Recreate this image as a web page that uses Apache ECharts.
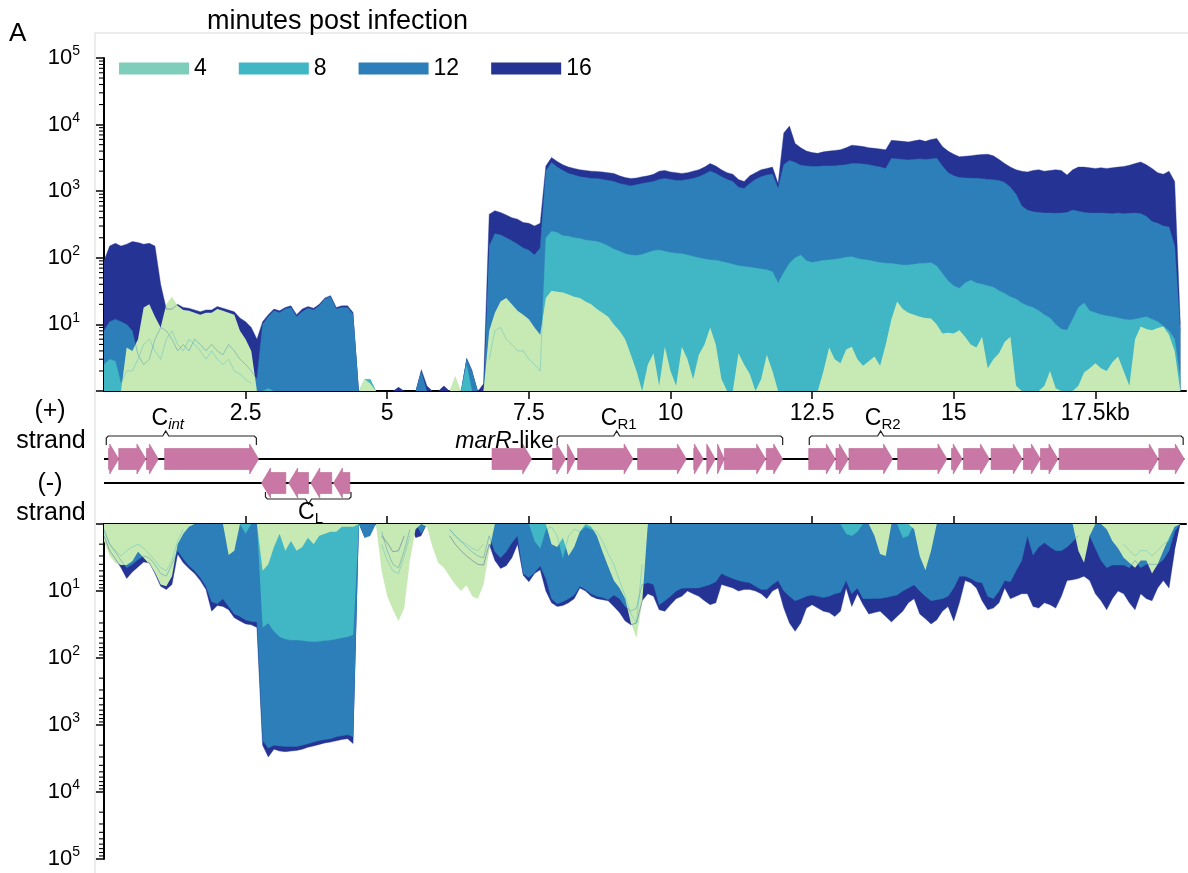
<!DOCTYPE html>
<html>
<head>
<meta charset="utf-8">
<script src="https://cdn.jsdelivr.net/npm/echarts@6/dist/echarts.min.js"></script>
<style>
  html, body { margin: 0; padding: 0; background: #fff; }
  #chart { width: 1188px; height: 873px; }
</style>
</head>
<body>
<div id="chart"></div>
<script>
// Genome position (kb), sampled every 0.1 kb from 0 to 19 kb
const kb = Array.from({ length: 191 }, (_, i) => +(i / 10).toFixed(1));

// Read coverage on the (+) strand, one row per kb
const plus16 = [
  90,150,165,150,160,175,170,160,165,150,
  40,17,17,20,18,17.5,16.5,15.5,16.5,16.5,
  18.5,17.5,16.5,15.5,12.5,11,9,6,11,14,
  17,16,18,19,14,17,18.5,17.5,20,25,
  27,18,19,19,15,1,1,1,1,1,
  1,1,1.15,1,1,1,2.1,1.2,1,1,
  1.2,1,1,1,3.1,2,1,1.3,450,510,
  480,440,400,380,340,330,300,330,2400,3200,
  2800,2500,2300,2200,2100,2050,2000,1980,1950,1900,
  1850,1700,1600,1550,1580,1650,1700,1800,2000,2050,
  1950,1900,1850,1900,2000,2100,2300,2600,2400,2100,
  1900,1800,1500,1400,1700,1900,2100,2200,2300,1300,
  7500,9500,5200,4500,4000,3800,3700,3900,4000,4100,
  4200,4500,4900,4800,4700,4500,4400,4300,4200,5800,
  5700,5600,5500,5700,5900,5600,6000,6200,4700,4000,
  3600,3300,3350,3400,3500,3550,3600,3400,3000,2600,
  2300,2100,2000,1950,2050,2100,2000,2050,2100,2050,
  1750,2100,2300,2300,2250,2200,2250,2200,2250,2300,
  2350,2450,2600,2750,2500,2200,1900,1800,2000,1400,
  10
];
const plus12 = [
  8,11,12,11,10,8,3.5,2.5,3,6,
  9,8,6,4,5,4,6,5,4,5,
  4,3.5,5,4,3,2.5,2,1.5,10,13,
  16,15,17,18,13,15.5,17.5,16.5,19,24,
  26,17,18,18,14,1,1,1.5,1,1,
  1,1,1,1,1,1,2,1,1,1,
  1,1,1,1,3.1,1.95,1,1,150,230,
  220,200,180,160,140,130,110,140,2000,2700,
  2300,2050,1850,1750,1650,1600,1550,1550,1500,1450,
  1400,1300,1250,1200,1250,1300,1350,1400,1500,1550,
  1500,1450,1450,1500,1550,1650,1800,2000,1850,1650,
  1500,1400,1150,1100,1300,1500,1650,1750,1800,1100,
  2500,2900,2700,2450,2400,2350,2350,2400,2400,2400,
  2450,2500,2600,2600,2550,2500,2400,2300,2200,3100,
  3050,3000,2950,3000,3050,3000,3050,3120,2400,1900,
  1700,1600,1580,1560,1560,1540,1500,1480,1450,1350,
  1150,900,600,520,490,480,470,470,465,470,
  480,520,500,480,470,470,470,465,460,470,
  460,465,470,460,420,350,330,300,290,150,
  8
];
const plus8 = [
  2.5,3,2.8,1.3,2,2,3,5,6,4,
  3,6,8,5,4,6,5,4,3,4,
  3,2.5,3,2,1.8,1.5,1.3,1,1,1.1,
  1,1,1,1,1,1,1,1,1,1,
  1,1,1,1,1,1,1.5,1.5,1,1,
  1,1,1,1,1,1,1,1,1,1,
  1,1,1.4,1,2.5,1,1,1,3,8,
  9,6,5,4,4,3,2.5,2,200,250,
  240,215,210,200,195,185,180,175,165,150,
  135,125,115,110,108,112,120,128,131,125,
  120,117,115,110,105,100,96,93,92,88,
  84,80,76,74,72,70,68,66,62,42,
  60,83,100,110,90,85,88,92,93,95,
  98,102,104,98,94,92,88,85,83,82,
  80,78,78,80,82,83,84,75,58,45,
  38,35,42,46,42,40,38,36,32,29,
  26,24,21,19,18,16,14,12.5,10,8.5,
  8.2,12,18,21,16,15,14,13.5,13,12.5,
  12,11.6,12,12.5,13,12,11,9.5,8,6,
  1.5
];
const plus4 = [
  1,1,1,1,4.5,4,6,18,20,13,
  9,20,26,19,16.5,16,15,14,15,15,
  17,16,15,14,8,6,4,1,1,1,
  1,1,1,1,1,1,1,1,1,1,
  1,1,1,1,1,1,1.5,1.3,1,1,
  1,1,1,1,1,1,1,1,1,1,
  1,1,1.7,1,1,1,1,1,8,15,
  22,25,20,16,14,12,9,7,25,32,
  31,30,28,26,25,22,20,17,15,13,
  10,8,6,3.5,2,1,2.5,3.7,1.2,4.6,
  2,1.2,4.6,3,1.5,3.5,5,9,5,1.5,
  1,1,3.7,2.5,1.8,1,1.5,3.5,2,1,
  1,1,1,1,1,1,1,2,4.5,3,
  2.6,4.2,4.6,3,2.4,2.8,3.3,2.4,5,12,
  22,17,15,14,13,12.5,12.3,10,7.3,7.5,
  7.3,8.2,6.5,5,4.5,6.5,2.2,3,3.7,5.5,
  6.5,1.2,1,1,1,1,1.2,2,1.1,1,
  1,1,1.2,1.9,2.2,2.6,2.2,2,2.7,3.3,
  2,1.2,6,9.3,8.5,8.2,8.8,9.3,7,4,
  1
];

// Read coverage on the (-) strand
const minus16 = [
  1.5,2.5,3.3,4.5,6.5,5.2,4.4,3.7,3.8,5.5,
  8.5,9.5,8,2.8,3.8,4.6,5.5,7,9.5,20,
  16.5,17,19,25,28,31,32,35,2000,3000,
  2300,2450,2500,2450,2400,2300,2150,2050,1950,1850,
  1800,1720,1650,1600,1900,1,1.6,1,1,1.5,
  1.9,2.6,2.5,1.5,1,1.6,1.5,1,1,1,
  1,1.5,2,2.5,3,3.5,4,4.1,2,3.5,
  4.6,4.2,3.2,2,5.8,7.3,5.5,4.8,10,15,
  17,16.5,15,13,9,10,12,13,13.5,14,
  17,21,28,32,30,14,11,12,19,20,
  16,13,12,10,11,12,14,16,15,8,
  8.5,9,10,9.5,9.5,10,11,13,10,9,
  18,30,40,30,18,16,18,20,21,24,
  20,9,17,11,16,22,21,20,24,29,
  24,20,15,13,22,26,31,27,20,17,
  28,15,7,7.5,9,14,19,18,15,9,
  13,12,11,11,17,18,15,16,18,12,
  7,6.8,6.5,6,7,11,14,19,13,10,
  11,15,19,11,13,14,9,7,9,2.5,
  1
];
const minus12 = [
  1.2,2,2.6,3.5,4.5,4,3.4,3,3.2,4,
  5.5,6,4,2.5,3.3,4.2,5,6.3,8.5,14.5,
  15.5,13,17,22,24,27,28.5,29,1700,2200,
  2000,2050,2100,2100,2100,2000,1900,1800,1700,1650,
  1600,1500,1450,1400,1500,1,1.6,1.5,1,1.3,
  2.5,4,4.5,2.5,1.2,1,1.4,1,1,1,
  1,1.2,1.5,1.8,2.2,2.6,3,3.2,1.5,2.6,
  3.2,2.6,1.9,1.5,5.5,6.3,5.3,4.2,6.5,13,
  15.5,14.5,13,11.5,8.5,9.5,11,12,12.5,13.5,
  11.5,13,17,20,18,8,7.5,8,16,14,
  12,10,9.1,9,9,9,8.5,8,7.3,5.5,
  6,6.5,7,7.3,7.5,8.5,9.5,9.5,8,7,
  10,12,14,13,12,11.5,12,12.5,12,11,
  10.5,7,11,9,13,13,12.9,12.9,12.5,12,
  11.5,10,9,8.1,10,12,14,13.5,13,12,
  9,6,6,6.5,7.3,7.5,12,13,10,7,
  7.3,5,3.5,1.5,2.9,2.2,1.9,2.2,2.5,2.5,
  2.2,1.84,1.5,1,1.5,2.3,3.5,4.5,4.1,4.1,
  4.1,4.5,3.5,4.5,4,4,4,3.4,2.5,1.3,
  1
];
const minus8 = [
  1.3,2,2.5,3,2.5,2.2,2,2.3,2.8,3.5,
  4.5,5,3.5,1.8,1.2,1,1,1,1,1,
  1,1,1,1,1,1.4,1,1,35,30,
  40,48,52,54,54,55,56,57,56,55,
  54,52,50,48,45,1,1,1,1,2,
  3.5,5,5.5,3,1.5,1,1,1,1,1,
  1,1.2,1.5,1.8,2,2.3,2.5,2,1,1,
  1,1,1,1,1,1,1.8,2.3,1.2,1.1,
  1.5,3.2,1.5,1.2,1.3,1.1,1.2,1.3,1.8,2.8,
  4,7,12,22,30,4,1,1,1,1,
  1,1,1,1,1,1,1,1,1,1,
  1,1,1,1,1,1,1,1,1,1,
  1,1,1,1,1,1,1,1,1,1,
  1,1.4,1.5,1.3,1,1,1,1,1,1,
  1,1.6,1.5,1,1,1,1,1,1,1,
  1,1,1,1,1,1,1,1,1,1,
  1,1,1,1,1,1,1,1,1,1,
  1,1,1,1,1,1,1,1,1,1,
  2,2.5,3,2.5,2.5,3,2.5,2,1.8,1,
  1
];
const minus4 = [
  1.8,3,3.8,4.1,4.1,3.6,2.6,3.2,4,5.3,
  8,8.5,6,2,1.4,1.1,1,1,1,1,
  1,1,2.9,2.5,1,1,1,1,5,4,
  2.2,1.4,2.5,1.8,2.5,2.2,1.6,2,1.5,1.4,
  1.3,1.3,1.1,1.1,1.1,1,1,1,1,5,
  12,19,28,18,3.5,1.2,1,1.1,2.2,3.8,
  4.5,6,8,10,8.2,12,13,8,2.5,1,
  1,1,1,1,1,1,1,1,1,2,
  2.2,1.6,3,2.2,1.3,1,1.1,1.5,2.6,4.3,
  7,9,13,30,50,15,1,1,1,1,
  1,1,1,1,1,1,1,1,1,1,
  1,1,1,1,1,1,1,1,1,1,
  1,1,1,1,1,1,1,1,1,1,
  1,1,1,1,1,1,1.5,2.8,3,1,
  1,1,1,1.2,3,4.9,2.5,1,1,1,
  1,1,1,1,1,1,1,1,1,1,
  1,1,1,1,1,1,1,1,1,1,
  1,1,2.5,3.8,1.5,1,1,1.2,1.8,2.3,
  3.2,3.8,4.5,3.5,3.5,5.5,4,2.5,1.6,1.1,
  1
];

// Genes: [start kb, end kb]
const genesPlus = [
  [0.08,0.26],[0.26,0.74],[0.75,0.96],[1.07,2.73],[6.85,7.55],
  [7.92,8.15],[8.18,8.32],[8.36,9.34],[9.42,10.28],[10.41,10.58],
  [10.64,10.79],[10.83,10.95],[10.95,11.68],[11.69,11.98],
  [12.44,12.91],[12.92,13.14],[13.15,13.92],[14.01,14.88],[14.96,15.15],
  [15.17,15.63],[15.66,16.21],[16.23,16.53],[16.53,16.84],[16.86,18.61],[18.62,19.07]
];
const genesMinus = [[2.78,3.21],[3.26,3.61],[3.65,4.02],[4.05,4.34]];
const genomeEnd = 19.07;

// Gene clusters: start, end, label position (kb), strand
const clusters = [
  { sub: 'int', italic: true, start: 0.04, end: 2.69, tip: 1.09, strand: 1 },
  { sub: 'L', italic: false, start: 2.85, end: 4.36, tip: 3.61, strand: -1 },
  { sub: 'R1', italic: false, start: 8.0, end: 11.98, tip: 9.05, strand: 1 },
  { sub: 'R2', italic: false, start: 12.45, end: 19.05, tip: 13.71, strand: 1 }
];
const geneNotes = [{ italicPart: 'marR', rest: '-like', at: 7.07, strand: 1 }];

const timePoints = ['4', '8', '12', '16'];
const tickKb = [2.5, 5, 7.5, 10, 12.5, 15, 17.5];

const FONT = "'Liberation Sans', Arial, Helvetica, sans-serif";
const COLORS = { '4': '#7fcdbb', '8': '#41b6c4', '12': '#2c7fb8', '16': '#253494' };
const AREA_COLORS = { '4': '#c7e9b4', '8': '#41b6c4', '12': '#2c7fb8', '16': '#253494' };
const GENE_FILL = '#c977a5';

const pairs = vals => kb.map((x, i) => [x, vals[i]]);
const edges = vals => kb.map((x, i) => [x, vals[i] > 1 ? vals[i] : null]);

const panels = [
  { idx: 0, data: { '16': plus16, '12': plus12, '8': plus8, '4': plus4 } },
  { idx: 1, data: { '16': minus16, '12': minus12, '8': minus8, '4': minus4 } }
];

const series = [];
const minorVals = [];
for (let k = 0; k < 5; k++) for (let m = 2; m <= 9; m++) minorVals.push(m * Math.pow(10, k));

panels.forEach(p => {
  // filled coverage, largest time point at the back
  ['16', '12', '8', '4'].forEach(name => {
    series.push({
      type: 'line', name, xAxisIndex: p.idx, yAxisIndex: p.idx,
      data: pairs(p.data[name]), symbol: 'none', showSymbol: false,
      lineStyle: { width: 0, opacity: 0 },
      itemStyle: { color: COLORS[name] },
      areaStyle: { color: AREA_COLORS[name], opacity: 1, origin: 'start' },
      silent: true, z: 2
    });
  });
  // faint outlines of the later time points drawn over the 4 min fill
  ['16', '12', '8'].forEach(name => {
    series.push({
      type: 'line', name: 'outline ' + name, xAxisIndex: p.idx, yAxisIndex: p.idx,
      data: edges(p.data[name]), symbol: 'none', showSymbol: false, connectNulls: false,
      lineStyle: { width: 0.7, color: COLORS[name], opacity: 0.55 },
      silent: true, z: 3
    });
  });
  // logarithmic minor ticks on the y axis
  series.push({
    type: 'custom', name: 'minor ticks', xAxisIndex: p.idx, yAxisIndex: p.idx,
    data: minorVals.map(v => [0, v]), clip: false, silent: true, z: 6,
    renderItem: (params, api) => {
      const c = api.coord([0, api.value(1)]);
      return { type: 'line', shape: { x1: c[0] - 5, y1: c[1], x2: c[0], y2: c[1] },
               style: { stroke: '#000', lineWidth: 1.1 } };
    }
  });
});

// strand backbones
series.push({
  type: 'custom', name: 'strands', xAxisIndex: 2, yAxisIndex: 2,
  data: [[0, genomeEnd, 1], [0, genomeEnd, -1]], clip: false, silent: true, z: 3,
  renderItem: (params, api) => {
    const a = api.coord([api.value(0), api.value(2)]);
    const b = api.coord([api.value(1), api.value(2)]);
    return { type: 'line', shape: { x1: a[0], y1: a[1], x2: b[0], y2: b[1] },
             style: { stroke: '#000', lineWidth: 2.2 } };
  }
});

// gene arrows
const geneData = genesPlus.map(g => [g[0], g[1], 1]).concat(genesMinus.map(g => [g[0], g[1], -1]));
series.push({
  type: 'custom', name: 'genes', xAxisIndex: 2, yAxisIndex: 2,
  data: geneData, clip: false, silent: true, z: 4,
  renderItem: (params, api) => {
    const s = api.value(0), e = api.value(1), st = api.value(2);
    const a = api.coord([s, st]), b = api.coord([e, st]);
    const y = a[1], bh = 10.5, hh = 15;
    const len = b[0] - a[0];
    const hl = Math.min(9, len);
    let pts;
    if (st > 0) {
      const n = b[0] - hl;
      pts = [[a[0], y - bh], [n, y - bh], [n, y - hh], [b[0], y], [n, y + hh], [n, y + bh], [a[0], y + bh]];
    } else {
      const n = a[0] + hl;
      pts = [[b[0], y - bh], [n, y - bh], [n, y - hh], [a[0], y], [n, y + hh], [n, y + bh], [b[0], y + bh]];
    }
    return { type: 'polygon', shape: { points: pts },
             style: { fill: GENE_FILL, stroke: '#b96694', lineWidth: 0.6 } };
  }
});

// cluster brackets and labels
series.push({
  type: 'custom', name: 'clusters', xAxisIndex: 2, yAxisIndex: 2,
  data: clusters.map(c => [c.start, c.end, c.tip, c.strand]), clip: false, silent: true, z: 4,
  renderItem: (params, api) => {
    const c = clusters[params.dataIndex];
    const a = api.coord([c.start, c.strand]), b = api.coord([c.end, c.strand]), t = api.coord([c.tip, c.strand]);
    const up = c.strand > 0;
    const yl = up ? a[1] - 23 : a[1] + 16;
    const d = up ? 1 : -1;
    const ends = up ? 9 : 7;
    const pts = [[a[0], yl + ends * d], [a[0], yl + 2 * d], [a[0] + 2, yl], [t[0] - 3, yl], [t[0], yl - 5 * d],
                 [t[0] + 3, yl], [b[0] - 2, yl], [b[0], yl + 2 * d], [b[0], yl + ends * d]];
    return {
      type: 'group', children: [
        { type: 'polyline', shape: { points: pts }, style: { stroke: '#222', lineWidth: 1.2, fill: null } },
        { type: 'text', x: t[0] + 2, y: up ? yl - 17 : yl + 14,
          style: {
            text: '{c|C}{s|' + c.sub + '}', align: 'center', verticalAlign: 'middle',
            rich: {
              c: { fontSize: 23, fontFamily: FONT, fill: '#000' },
              s: { fontSize: 15, fontFamily: FONT, fill: '#000', fontStyle: c.italic ? 'italic' : 'normal', padding: [11, 0, 0, 0] }
            }
          } }
      ]
    };
  }
});

// gene name note
series.push({
  type: 'custom', name: 'notes', xAxisIndex: 2, yAxisIndex: 2,
  data: geneNotes.map(n => [n.at, n.strand]), clip: false, silent: true, z: 4,
  renderItem: (params, api) => {
    const n = geneNotes[params.dataIndex];
    const p = api.coord([n.at, n.strand]);
    return { type: 'text', x: p[0], y: p[1] - 17,
      style: {
        text: '{i|' + n.italicPart + '}{r|' + n.rest + '}', align: 'center', verticalAlign: 'middle',
        rich: {
          i: { fontSize: 23, fontFamily: FONT, fontStyle: 'italic', fill: '#000' },
          r: { fontSize: 23, fontFamily: FONT, fill: '#000' }
        }
      } };
  }
});

const expLabel = v => {
  const e = Math.round(Math.log10(v));
  return e === 0 ? '' : '{b|10}{e|' + e + '}';
};
const expRich = {
  b: { fontSize: 22, fontFamily: FONT, color: '#000' },
  e: { fontSize: 14, fontFamily: FONT, color: '#000', padding: [0, 0, 13, 0] }
};
const axisLine = { show: true, onZero: false, lineStyle: { color: '#000', width: 2 } };
const tickStyle = { color: '#000', width: 1.5 };

const logAxis = (gridIndex, inverse) => ({
  gridIndex, type: 'log', logBase: 10, min: 1, max: 100000, inverse,
  axisLine, axisTick: { show: true, length: 8, lineStyle: tickStyle },
  axisLabel: { formatter: expLabel, rich: expRich, margin: 24 },
  splitLine: { show: false }, minorTick: { show: false }
});

const option = {
  animation: false,
  backgroundColor: '#ffffff',
  title: [
    { text: 'A', left: 9, top: 21, padding: 0,
      textStyle: { fontSize: 26, fontWeight: 'normal', color: '#000', fontFamily: FONT } },
    { text: 'minutes post infection', left: 207, top: 8, padding: 0,
      textStyle: { fontSize: 27, fontWeight: 'normal', color: '#000', fontFamily: FONT } }
  ],
  legend: {
    data: timePoints.map(t => ({ name: t, itemStyle: { color: COLORS[t] } })),
    left: 119, top: 57, padding: 0, icon: 'rect', itemWidth: 70, itemHeight: 12, itemGap: 32,
    selectedMode: false, textStyle: { fontSize: 23, color: '#000', fontFamily: FONT }
  },
  grid: [
    { left: 104, top: 58, width: 1082, height: 333 },
    { left: 104, top: 524, width: 1082, height: 335 },
    { left: 104, top: 435, width: 1082, height: 72 }
  ],
  xAxis: [
    { gridIndex: 0, type: 'value', min: 0, max: 19.1, axisLine,
      axisTick: { customValues: tickKb, length: 8, lineStyle: tickStyle },
      axisLabel: { customValues: tickKb, margin: 11, fontSize: 23, color: '#000', fontFamily: FONT,
                   formatter: v => (v === 17.5 ? '17.5kb' : String(v)) },
      splitLine: { show: false } },
    { gridIndex: 1, type: 'value', min: 0, max: 19.1, position: 'top', axisLine,
      axisTick: { customValues: tickKb, length: 8, lineStyle: tickStyle },
      axisLabel: { show: false }, splitLine: { show: false } },
    { gridIndex: 2, type: 'value', min: 0, max: 19.1, show: false }
  ],
  yAxis: [
    logAxis(0, false),
    logAxis(1, true),
    { gridIndex: 2, type: 'value', min: -3, max: 3, show: false }
  ],
  graphic: [
    { type: 'line', shape: { x1: 95, y1: 33, x2: 1188, y2: 33 }, style: { stroke: '#d9d9d9', lineWidth: 1 }, silent: true },
    { type: 'line', shape: { x1: 95, y1: 33, x2: 95, y2: 873 }, style: { stroke: '#d9d9d9', lineWidth: 1 }, silent: true },
    { type: 'text', x: 50, y: 411, style: { text: '(+)', fontSize: 25, fontFamily: FONT, fill: '#000', align: 'center', verticalAlign: 'middle' } },
    { type: 'text', x: 51, y: 441, style: { text: 'strand', fontSize: 25, fontFamily: FONT, fill: '#000', align: 'center', verticalAlign: 'middle' } },
    { type: 'text', x: 50, y: 484, style: { text: '(-)', fontSize: 25, fontFamily: FONT, fill: '#000', align: 'center', verticalAlign: 'middle' } },
    { type: 'text', x: 51, y: 513, style: { text: 'strand', fontSize: 25, fontFamily: FONT, fill: '#000', align: 'center', verticalAlign: 'middle' } }
  ],
  series
};

const chart = echarts.init(document.getElementById('chart'), null, { renderer: 'canvas' });
chart.setOption(option);
</script>
</body>
</html>
